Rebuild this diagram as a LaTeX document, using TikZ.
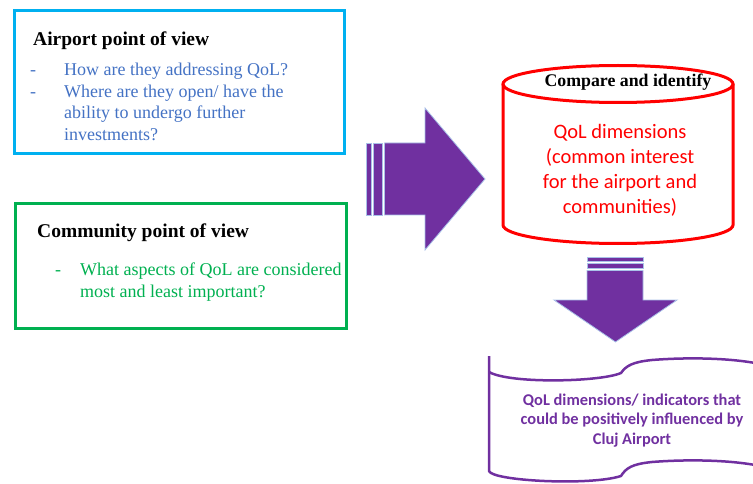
\documentclass[tikz,border=0pt]{standalone}
\usepackage{fontspec}
\setmainfont{Liberation Serif}
\newfontfamily\calib{Carlito}
\definecolor{skyb}{HTML}{00B0F0}
\definecolor{txtblue}{HTML}{4472C4}
\definecolor{grn}{HTML}{00B050}
\definecolor{purp}{HTML}{7030A0}
\definecolor{arrline}{HTML}{A9C1E8}
\newcommand{\leftlines}[1]{\begin{tabular}[t]{@{}l@{}}#1\end{tabular}}
\newcommand{\midlines}[1]{\begin{tabular}[t]{@{}c@{}}#1\end{tabular}}
\tikzset{
  framebox/.style={draw=#1, line width=3pt, inner sep=0pt},
  titletext/.style={anchor=base west, inner sep=0pt, font=\bfseries\fontsize{19.5}{22}\selectfont},
  bodytext/.style={anchor=base west, inner sep=0pt, text=#1, font=\fontsize{18}{21.5}\selectfont},
  dashmark/.style={anchor=base west, inner sep=0pt, text=#1, font=\fontsize{18}{20}\selectfont},
  blockarrow/.style={fill=purp, draw=arrline, line width=0.8pt},
}
\begin{document}
\begin{tikzpicture}[x=1pt,y=-1pt]
\useasboundingbox (0,0) rectangle (753,484);

% Airport box
\node[framebox=skyb, minimum width=330pt, minimum height=142.5pt] (airport) at (179.5,82.25) {};
\node[titletext] (aptitle) at (33,46) {Airport point of view};
\node[dashmark=txtblue] (apd1) at (30,76) {-};
\node[dashmark=txtblue] (apd2) at (30,97.5) {-};
\node[bodytext=txtblue] (apq1) at (64,76) {How are they addressing QoL?};
\node[bodytext=txtblue] (apq2) at (64,97.5) {\leftlines{Where are they open/ have the\\ability to undergo further\\investments?}};

% Community box
\node[framebox=grn, minimum width=331pt, minimum height=124.5pt] (community) at (181,266.25) {};
\node[titletext] (cmtitle) at (37,237) {Community point of view};
\node[dashmark=grn] (cmd1) at (55,275) {-};
\node[bodytext=grn, font=\fontsize{18}{22}\selectfont] (cmq1) at (80,275) {\leftlines{What aspects of QoL are considered\\most and least important?}};

% Right block arrow
\filldraw[blockarrow] (366,143) rectangle (371,215);
\filldraw[blockarrow] (373.5,143) rectangle (382,215);
\filldraw[blockarrow] (384.5,143) -- (425,143) -- (425,108) -- (485,179) -- (425,250) -- (425,215) -- (384.5,215) -- cycle;

% Cylinder
\draw[red, line width=3pt] (618,84) ellipse [x radius=115, y radius=18.5];
\draw[red, line width=3pt] (503,84) -- (503,225) arc[start angle=180, end angle=0, x radius=115, y radius=18.5] -- (733,84);
\node[anchor=base, inner sep=0pt, font=\bfseries\fontsize{17.8}{20}\selectfont] (cmp) at (628,87) {Compare and identify};
\node[anchor=base, inner sep=0pt, text=red, font=\calib\fontsize{20.5}{25}\selectfont] (qol) at (620,139) {\midlines{QoL dimensions\\(common interest\\for the airport and\\communities)}};

% Down block arrow
\filldraw[blockarrow] (587,257) rectangle (643,261);
\filldraw[blockarrow] (587,263) rectangle (643,268);
\filldraw[blockarrow] (587,270.5) -- (643,270.5) -- (643,300) -- (677,300) -- (615.5,342) -- (554,300) -- (587,300) -- cycle;

% Tape shape
\draw[purp, line width=2.5pt, line join=round]
  (489,356) -- (489,471)
  .. controls (492,481) and (590,486) .. (621,476)
  .. controls (626,468) and (632,464) .. (652,462)
  .. controls (690,459) and (735,460) .. (765,467);
\draw[purp, line width=2.5pt]
  (489,372) .. controls (510,384) and (600,382) .. (621,373)
  .. controls (626,366) and (632,362) .. (652,360)
  .. controls (690,357) and (735,358) .. (765,365);
\node[anchor=base, inner sep=0pt, text=purp, font=\calib\bfseries\fontsize{16.4}{19.5}\selectfont] (res) at (632,405) {\midlines{QoL dimensions/ indicators that\\could be positively influenced by\\Cluj Airport}};
\end{tikzpicture}
\end{document}
